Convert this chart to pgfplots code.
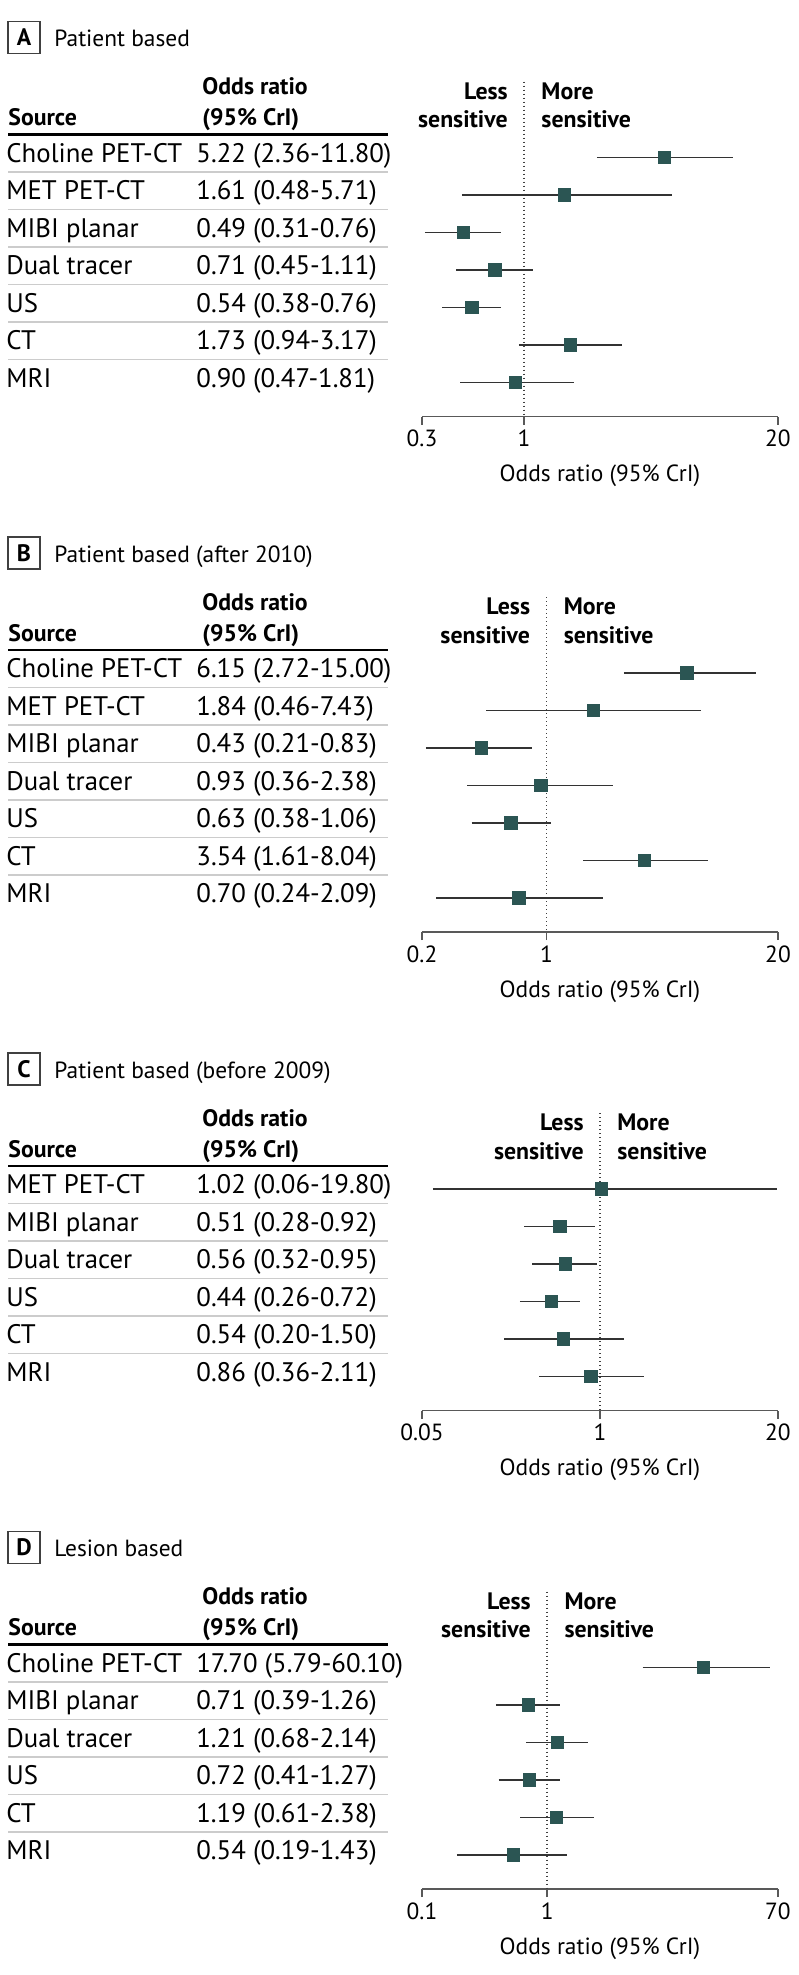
\documentclass[border=0pt]{standalone}
\usepackage{fontspec}
\setmainfont{PT Sans}
\usepackage{pgfplots}
\pgfplotsset{compat=1.18}

\definecolor{sq}{HTML}{2B5553}
\definecolor{ci}{HTML}{333333}

\newcommand\fRow{\fontsize{13.4}{15}\selectfont}
\newcommand\fHead{\fontsize{11.9}{14}\selectfont\bfseries}
\newcommand\fTitle{\fontsize{11.7}{14}\selectfont}
\newcommand\fTick{\fontsize{11.7}{14}\selectfont}
\newcommand\rowlab[2]{\makebox[95pt][l]{#1}#2}

\pgfplotsset{
  orpanel/.style={
    scale only axis, width=178pt,
    y dir=reverse, clip=false, anchor=south west,
    ymin=-1.0267,
    axis x line*=bottom, axis y line*=left,
    y axis line style={draw=none}, ytick style={draw=none},
    x axis line style={black!65, line width=0.8pt},
    xtick style={black!65, line width=0.8pt},
    tick align=outside, major tick length=4pt,
    minor xtick={},
    xticklabel style={font=\fTick, anchor=base, yshift=-11pt},
    yticklabel style={font=\fRow, anchor=base west, xshift=-204pt, yshift=-2.25pt, inner sep=0pt},
    xlabel={Odds ratio (95\% CrI)},
    xlabel style={font=\fTick, at={(axis description cs:0.5,0)}, anchor=base, yshift=-32.5pt},
  },
  orsq/.style={only marks, mark=square*, mark size=3.1pt,
    mark options={fill=sq, draw=sq}},
  crint/.style={ci, line width=0.65pt, mark=none},
  nullline/.style={black!75, line width=0.7pt, dash pattern=on 0.7pt off 1.3pt},
}

\newcommand\sens{%
  \node[font=\fHead, anchor=base east, inner sep=0] at ([xshift=-8pt]axis cs:1,-0.56) {Less};
  \node[font=\fHead, anchor=base east, inner sep=0] at ([xshift=-8pt]axis cs:1,0.21) {sensitive};
  \node[font=\fHead, anchor=base west, inner sep=0] at ([xshift=8.5pt]axis cs:1,-0.56) {More};
  \node[font=\fHead, anchor=base west, inner sep=0] at ([xshift=8.5pt]axis cs:1,0.21) {sensitive};}
% #1 rule y (px), #2 letter, #3 title, #4 number of separators
\newcommand\panelhead[4]{%
  \draw[black!75, line width=0.6pt] (8,{#1-113}) rectangle (40,{#1-81});
  \node[font=\fHead, inner sep=0] at (24,{#1-97}) {#2};
  \node[font=\fTitle, anchor=base west, inner sep=0] at (54,{#1-88}) {#3};
  \node[font=\fHead, anchor=base west, inner sep=0] at (202,{#1-40}) {Odds ratio};
  \node[font=\fHead, anchor=base west, inner sep=0] at (202,{#1-9}) {(95\% CrI)};
  \node[font=\fHead, anchor=base west, inner sep=0] at (8,{#1-9}) {Source};
  \draw[black, line width=1.2pt] (8,#1) -- (388,#1);
  \foreach \k in {1,...,#4} {\draw[black!20, line width=0.75pt] (8,{#1+37.5*\k}) -- (388,{#1+37.5*\k});}}

\begin{document}
\begin{tikzpicture}
\useasboundingbox (0,0) rectangle (399pt,-987.5pt);

\begin{scope}[x=0.5pt, y=-0.5pt]
\panelhead{134.5}{A}{Patient based}{6}
\panelhead{650}{B}{Patient based (after 2010)}{6}
\panelhead{1166}{C}{Patient based (before 2009)}{5}
\panelhead{1644.5}{D}{Lesion based}{5}
\end{scope}

% A: Patient based
\begin{axis}[orpanel, xmode=log, at={(211pt,-208.25pt)}, height=167.5pt,
  xmin=0.3, xmax=20, ymax=7.9067,
  xtick={0.3,1,20}, xticklabels={0.3,1,20},
  ytick={1,...,7},
  yticklabels={{\rowlab{Choline PET-CT}{5.22 (2.36-11.80)}},
    {\rowlab{MET PET-CT}{1.61 (0.48-5.71)}},
    {\rowlab{MIBI planar}{0.49 (0.31-0.76)}},
    {\rowlab{Dual tracer}{0.71 (0.45-1.11)}},
    {\rowlab{US}{0.54 (0.38-0.76)}},
    {\rowlab{CT}{1.73 (0.94-3.17)}},
    {\rowlab{MRI}{0.90 (0.47-1.81)}}}]
\addplot[nullline] coordinates {(1,-1.0267) (1,7.9067)};
\addplot[crint] coordinates {(2.36,1) (11.80,1)};
\addplot[crint] coordinates {(0.48,2) (5.71,2)};
\addplot[crint] coordinates {(0.31,3) (0.76,3)};
\addplot[crint] coordinates {(0.45,4) (1.11,4)};
\addplot[crint] coordinates {(0.38,5) (0.76,5)};
\addplot[crint] coordinates {(0.94,6) (3.17,6)};
\addplot[crint] coordinates {(0.47,7) (1.81,7)};
\addplot[orsq] coordinates {(5.22,1) (1.61,2) (0.49,3) (0.71,4) (0.54,5) (1.73,6) (0.90,7)};
\sens
\end{axis}

% B: Patient based (after 2010)
\begin{axis}[orpanel, xmode=log, at={(211pt,-466pt)}, height=167.5pt,
  xmin=0.2, xmax=20, ymax=7.9067,
  xtick={0.2,1,20}, xticklabels={0.2,1,20},
  ytick={1,...,7},
  yticklabels={{\rowlab{Choline PET-CT}{6.15 (2.72-15.00)}},
    {\rowlab{MET PET-CT}{1.84 (0.46-7.43)}},
    {\rowlab{MIBI planar}{0.43 (0.21-0.83)}},
    {\rowlab{Dual tracer}{0.93 (0.36-2.38)}},
    {\rowlab{US}{0.63 (0.38-1.06)}},
    {\rowlab{CT}{3.54 (1.61-8.04)}},
    {\rowlab{MRI}{0.70 (0.24-2.09)}}}]
\addplot[nullline] coordinates {(1,-1.0267) (1,7.9067)};
\addplot[crint] coordinates {(2.72,1) (15.00,1)};
\addplot[crint] coordinates {(0.46,2) (7.43,2)};
\addplot[crint] coordinates {(0.21,3) (0.83,3)};
\addplot[crint] coordinates {(0.36,4) (2.38,4)};
\addplot[crint] coordinates {(0.38,5) (1.06,5)};
\addplot[crint] coordinates {(1.61,6) (8.04,6)};
\addplot[crint] coordinates {(0.24,7) (2.09,7)};
\addplot[orsq] coordinates {(6.15,1) (1.84,2) (0.43,3) (0.93,4) (0.63,5) (3.54,6) (0.70,7)};
\sens
\end{axis}

% C: Patient based (before 2009)
\begin{axis}[orpanel, xmode=log, at={(211pt,-705.25pt)}, height=148.75pt,
  xmin=0.05, xmax=20, ymax=6.9067,
  xtick={0.05,1,20}, xticklabels={0.05,1,20},
  ytick={1,...,6},
  yticklabels={{\rowlab{MET PET-CT}{1.02 (0.06-19.80)}},
    {\rowlab{MIBI planar}{0.51 (0.28-0.92)}},
    {\rowlab{Dual tracer}{0.56 (0.32-0.95)}},
    {\rowlab{US}{0.44 (0.26-0.72)}},
    {\rowlab{CT}{0.54 (0.20-1.50)}},
    {\rowlab{MRI}{0.86 (0.36-2.11)}}}]
\addplot[nullline] coordinates {(1,-1.0267) (1,6.9067)};
\addplot[crint] coordinates {(0.06,1) (19.80,1)};
\addplot[crint] coordinates {(0.28,2) (0.92,2)};
\addplot[crint] coordinates {(0.32,3) (0.95,3)};
\addplot[crint] coordinates {(0.26,4) (0.72,4)};
\addplot[crint] coordinates {(0.20,5) (1.50,5)};
\addplot[crint] coordinates {(0.36,6) (2.11,6)};
\addplot[orsq] coordinates {(1.02,1) (0.51,2) (0.56,3) (0.44,4) (0.54,5) (0.86,6)};
\sens
\end{axis}

% D: Lesion based
\begin{axis}[orpanel, xmode=log, at={(211pt,-944.5pt)}, height=148.75pt,
  xmin=0.1, xmax=70, ymax=6.9067,
  xtick={0.1,1,70}, xticklabels={0.1,1,70},
  ytick={1,...,6},
  yticklabels={{\rowlab{Choline PET-CT}{17.70 (5.79-60.10)}},
    {\rowlab{MIBI planar}{0.71 (0.39-1.26)}},
    {\rowlab{Dual tracer}{1.21 (0.68-2.14)}},
    {\rowlab{US}{0.72 (0.41-1.27)}},
    {\rowlab{CT}{1.19 (0.61-2.38)}},
    {\rowlab{MRI}{0.54 (0.19-1.43)}}}]
\addplot[nullline] coordinates {(1,-1.0267) (1,6.9067)};
\addplot[crint] coordinates {(5.79,1) (60.10,1)};
\addplot[crint] coordinates {(0.39,2) (1.26,2)};
\addplot[crint] coordinates {(0.68,3) (2.14,3)};
\addplot[crint] coordinates {(0.41,4) (1.27,4)};
\addplot[crint] coordinates {(0.61,5) (2.38,5)};
\addplot[crint] coordinates {(0.19,6) (1.43,6)};
\addplot[orsq] coordinates {(17.70,1) (0.71,2) (1.21,3) (0.72,4) (1.19,5) (0.54,6)};
\sens
\end{axis}
\end{tikzpicture}
\end{document}
